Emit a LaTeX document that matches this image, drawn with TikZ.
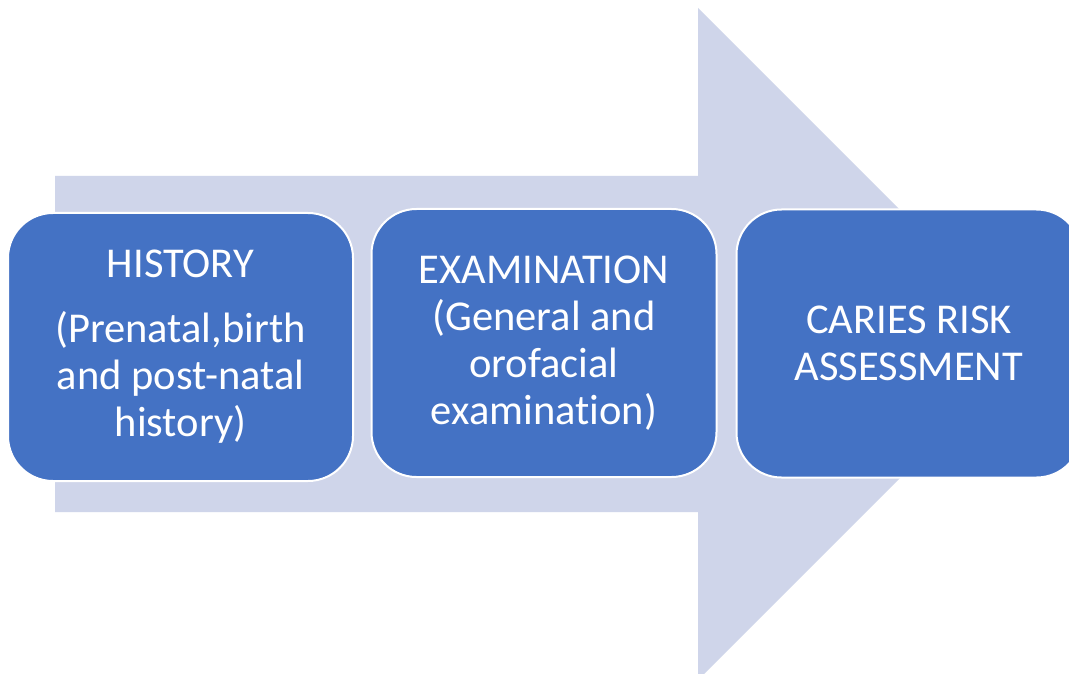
\documentclass[tikz,border=0pt]{standalone}
\usepackage{fontspec}
\setmainfont[Ligatures={NoCommon}]{Carlito}
\definecolor{arrowfill}{HTML}{CFD5EA}
\definecolor{boxfill}{HTML}{4472C4}
\tikzset{
  stagebox/.style={draw=white, line width=2pt, fill=boxfill, rounded corners=45pt,
    minimum width=345pt, minimum height=268pt, inner sep=0pt, text=white, align=center,
    font=\fontsize{42.5}{47}\selectfont},
  bigarrow/.style={fill=arrowfill, draw=none}
}
\begin{document}
\begin{tikzpicture}[x=1pt,y=-1pt]
\useasboundingbox (0,0) rectangle (1069,674);
\clip (0,0) rectangle (1069,674);
\fill[white] (0,0) rectangle (1069,674);
\fill[bigarrow] (55,176) -- (698,176) -- (698,8) -- (1034,344) -- (698,680) -- (698,512) -- (55,512) -- cycle;
\node[stagebox] (history) at (180.5,347) {HISTORY\\[18pt](Prenatal,birth\\and post-natal\\history)};
\node[stagebox] (exam) at (544,343) {EXAMINATION\\(General and\\orofacial\\examination)};
\node[stagebox] (caries) at (909,343.5) {CARIES RISK\\ASSESSMENT};
\end{tikzpicture}
\end{document}
